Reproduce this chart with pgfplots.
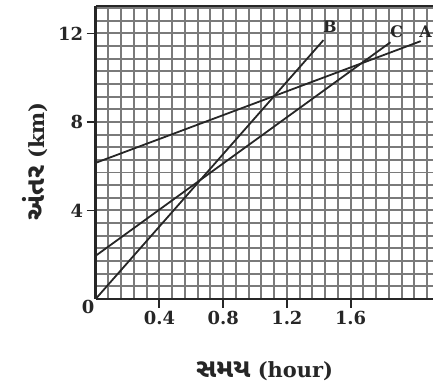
\documentclass[border=0pt]{standalone}
\usepackage{fontspec}
\setmainfont{DejaVu Serif}
\newfontfamily\gujfont[Script=Gujarati, Scale=1.25]{Noto Sans Gujarati UI}
\usepackage{pgfplots}
\pgfplotsset{compat=1.18}
\definecolor{ink}{HTML}{262626}
\definecolor{gridc}{HTML}{7A7A7A}
\begin{document}
\begin{tikzpicture}
\begin{axis}[
  scale only axis, width=339pt, height=294pt,
  xmin=0, xmax=2.12, ymin=0, ymax=13.24,
  axis x line=box, axis y line=left,
  axis line style={-, line width=2.4pt, ink},
  xtick={0.4,0.8,1.2,1.6}, xticklabels={0.4,0.8,1.2,1.6},
  ytick={4,8,12}, yticklabels={4,8,12},
  minor xtick={0,0.08,...,2.13},
  minor ytick={0,0.5714286,...,13.3},
  tick pos=left, tick align=outside,
  major tick length=9pt, minor tick length=0pt,
  major tick style={line width=1.8pt, ink},
  grid=both,
  grid style={gridc, line width=1.9pt},
  minor grid style={gridc, line width=1.9pt},
  major grid style={gridc, line width=1.9pt},
  ticklabel style={font=\fontsize{18}{20}\selectfont\bfseries, text=ink},
  xlabel={{\gujfont સમય} (hour)},
  ylabel={{\gujfont અંતર} (km)},
  label style={font=\fontsize{21}{24}\selectfont\bfseries, text=ink},
  xlabel style={at={(axis description cs:0.5,-0.245)}, anchor=center},
  ylabel style={at={(axis description cs:-0.18,0.47)}, anchor=center},
  clip=false,
]
\addplot[ink, line width=1.8pt] coordinates {(0,6.15) (2.04,11.65)};
\addplot[ink, line width=1.8pt] coordinates {(0,0) (1.43,11.7)};
\addplot[ink, line width=1.8pt] coordinates {(0,1.95) (1.85,11.6)};
\node[font=\fontsize{16}{18}\selectfont\bfseries, text=ink] at (axis cs:1.47,12.3) {B};
\node[font=\fontsize{16}{18}\selectfont\bfseries, text=ink] at (axis cs:1.89,12.07) {C};
\node[font=\fontsize{16}{18}\selectfont\bfseries, text=ink] at (axis cs:2.07,12.1) {A};
\node[anchor=north east, inner sep=1pt, font=\fontsize{18}{20}\selectfont\bfseries, text=ink] at (axis cs:0,0) {0};
\path ([xshift=-96pt,yshift=-90pt]rel axis cs:0,0) ([yshift=6pt]rel axis cs:1,1);
\end{axis}
\end{tikzpicture}
\end{document}
